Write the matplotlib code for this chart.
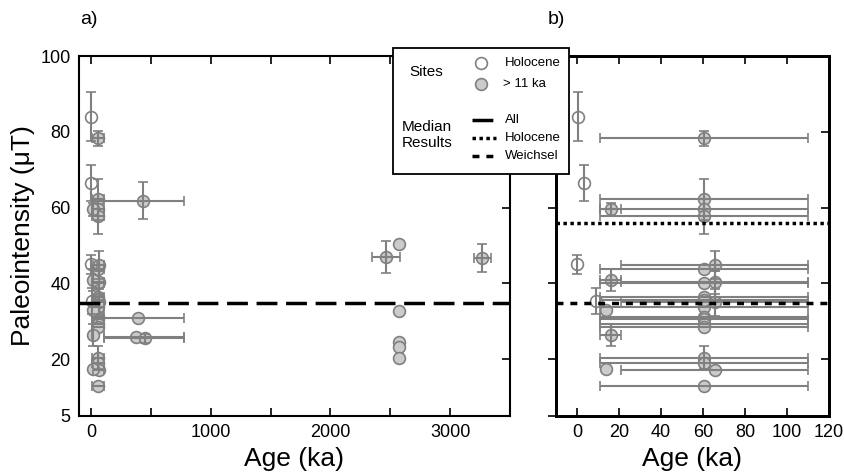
import numpy as np
import matplotlib
matplotlib.use("Agg")
import matplotlib.pyplot as plt
from matplotlib.lines import Line2D
from matplotlib.patches import Rectangle
from matplotlib.ticker import MultipleLocator

plt.rcParams['font.family'] = ['Liberation Sans', 'DejaVu Sans']

# Holocene sites (open symbols)
holo_age = [0.5, 3.5, 0.0, 9.0]
holo_age_err = [0.0, 0.0, 0.0, 0.0]
holo_int = [84.0, 66.5, 45.0, 35.3]
holo_int_err = [6.5, 4.7, 2.5, 3.5]

# sites older than 11 ka (filled symbols): age, age error below/above, intensity, error
old_age = [60.5, 60.5, 60.5, 60.5, 60.5, 60.5, 60.5, 60.5, 60.5, 60.5, 60.5, 60.5, 60.5, 60.5, 60.5, 60.5,
           65.5, 65.5, 65.5, 65.5,
           16.0, 16.0, 16.0,
           14.0, 14.0,
           436, 394, 380, 450,
           2465, 2575, 2575, 2575, 2575, 2575, 3270]
old_age_lo = [49.5] * 16 + [44.5] * 4 + [5.0] * 3 + [0.0] * 2 + \
             [430, 346, 270, 340, 120, 0, 0, 0, 0, 0, 70]
old_age_hi = [49.5] * 16 + [44.5] * 4 + [5.0] * 3 + [0.0] * 2 + \
             [339, 381, 395, 325, 120, 0, 0, 0, 0, 0, 70]
old_int = [78.3, 62.2, 59.5, 57.7, 43.7, 40.1, 36.3, 33.7, 31.2, 30.6, 29.4, 28.6, 20.4, 18.9, 12.8, 35.5,
           44.8, 40.3, 35.0, 17.1,
           59.5, 40.9, 26.4,
           33.0, 17.5,
           61.8, 30.8, 25.8, 25.5,
           46.9, 50.4, 32.8, 24.4, 23.3, 20.4, 46.7]
old_int_err = [2.0, 5.4, 0.0, 4.6, 0.0, 0.0, 0.0, 0.0, 0.0, 0.0, 0.0, 0.0, 3.0, 0.0, 0.0, 0.0,
               3.7, 3.0, 3.5, 0.0,
               1.6, 2.8, 2.8,
               0.0, 0.0,
               4.9, 0.0, 0.0, 1.2,
               4.2, 0.0, 0.0, 0.0, 0.0, 0.0, 3.6]

# median results
median_all = 34.7
median_holocene = 56.0
median_weichsel = 34.7

GREY = '#808080'
FILL = '#cbcbcb'


def draw_sites(ax, max_age=None):
    n_holo = len(holo_age)
    age = np.array(holo_age + old_age, dtype=float)
    lo = np.array(holo_age_err + old_age_lo, dtype=float)
    hi = np.array(holo_age_err + old_age_hi, dtype=float)
    val = np.array(holo_int + old_int, dtype=float)
    err = np.array(holo_int_err + old_int_err, dtype=float)
    keep = np.ones(len(age), bool) if max_age is None else age <= max_age
    holo = np.arange(len(age)) < n_holo

    m = keep & ~holo
    ax.plot(age[m], val[m], 'o', ms=8.5, mfc=FILL, mec=GREY, mew=1.2, ls='none', zorder=2)
    m = keep & holo
    ax.plot(age[m], val[m], 'o', ms=8.5, mfc='none', mec=GREY, mew=1.2, ls='none', zorder=2)

    m = keep & ((lo + hi) > 0)
    ax.errorbar(age[m], val[m], xerr=[lo[m], hi[m]], fmt='none', ecolor=GREY,
                elinewidth=1.5, capsize=3.5, capthick=1.2, zorder=3)
    m = keep & (err > 0)
    ax.errorbar(age[m], val[m], yerr=err[m], fmt='none', ecolor=GREY,
                elinewidth=1.5, capsize=3.5, capthick=1.2, zorder=3)


W, H = 845, 475
fig = plt.figure(figsize=(W / 100, H / 100), dpi=100)

ax1 = fig.add_axes([79 / W, 1 - 416 / H, 431 / W, 360 / H])
ax2 = fig.add_axes([556 / W, 1 - 416 / H, 273 / W, 360 / H])

yticks = [5, 20, 40, 60, 80, 100]

# panel a
draw_sites(ax1)
ax1.axhline(median_all, color='black', lw=2.5, dashes=(6, 2.5), zorder=4)
ax1.set_xlim(-100, 3500)
ax1.set_ylim(5, 100)
ax1.set_yticks(yticks)
ax1.xaxis.set_major_locator(MultipleLocator(1000))
ax1.xaxis.set_minor_locator(MultipleLocator(500))
ax1.tick_params(axis='both', which='both', direction='in', length=6, width=1.2,
                top=True, right=True, left=False, labelsize=13, pad=6)
ax1.set_xlabel('Age (ka)', fontsize=19)
ax1.set_ylabel('Paleointensity (\u03bcT)', fontsize=19)
for s in ax1.spines.values():
    s.set_linewidth(1.5)

# panel b
draw_sites(ax2, max_age=120)
ax2.axhline(median_holocene, color='black', lw=2.5, dashes=(1, 1), zorder=4)
ax2.axhline(median_weichsel, color='black', lw=2.5, dashes=(2, 2), zorder=4)
ax2.set_xlim(-10, 120)
ax2.set_ylim(5, 100)
ax2.set_yticks(yticks)
ax2.set_xticks(range(0, 121, 20))
ax2.tick_params(axis='x', direction='in', length=6, width=1.2, top=True,
                labelsize=13, pad=6)
ax2.tick_params(axis='y', direction='out', length=6, width=1.2, labelleft=False)
ax2.set_xlabel('Age (ka)', fontsize=19)
ax2b = ax2.twinx()
ax2b.set_ylim(5, 100)
ax2b.set_yticks(yticks)
ax2b.tick_params(axis='y', direction='in', length=6, width=1.2, labelright=False)
for a in (ax2, ax2b):
    for s in a.spines.values():
        s.set_linewidth(2)

fig.text(80 / W, 1 - 20 / H, 'a)', fontsize=14, va='center', ha='left')
fig.text(548 / W, 1 - 20 / H, 'b)', fontsize=14, va='center', ha='left')


# legend box
def fx(px):
    return px / W


def fy(py):
    return 1 - py / H


box = Rectangle((fx(393), fy(174)), fx(569) - fx(393), fy(48) - fy(174),
                transform=fig.transFigure, facecolor='white', edgecolor='black',
                lw=1.3, zorder=10)
fig.add_artist(box)
fig.text(fx(409), fy(72), 'Sites', fontsize=11, va='center', ha='left', zorder=11)
fig.add_artist(Line2D([fx(481)], [fy(63)], transform=fig.transFigure, marker='o', ms=8.5,
                      mfc='none', mec=GREY, mew=1.2, ls='none', zorder=11))
fig.add_artist(Line2D([fx(481)], [fy(84)], transform=fig.transFigure, marker='o', ms=8.5,
                      mfc=FILL, mec=GREY, mew=1.2, ls='none', zorder=11))
fig.text(fx(505), fy(63), 'Holocene', fontsize=9.5, va='center', ha='left', zorder=11)
fig.text(fx(503), fy(84), '> 11 ka', fontsize=9.5, va='center', ha='left', zorder=11)
fig.text(fx(402), fy(135), 'Median\nResults', fontsize=11, va='center', ha='left',
         linespacing=1.1, zorder=11)
handle_styles = [(6, 2.5), (1, 1), (2, 2)]
handle_labels = ['All', 'Holocene', 'Weichsel']
for i, (d, lab) in enumerate(zip(handle_styles, handle_labels)):
    yy = 120 + 18 * i
    fig.add_artist(Line2D([fx(472), fx(496)], [fy(yy), fy(yy)], transform=fig.transFigure,
                          color='black', lw=2.5, dashes=d, zorder=11))
    fig.text(fx(505), fy(yy), lab, fontsize=9.5, va='center', ha='left', zorder=11)

fig.savefig('out.png', dpi=100)
